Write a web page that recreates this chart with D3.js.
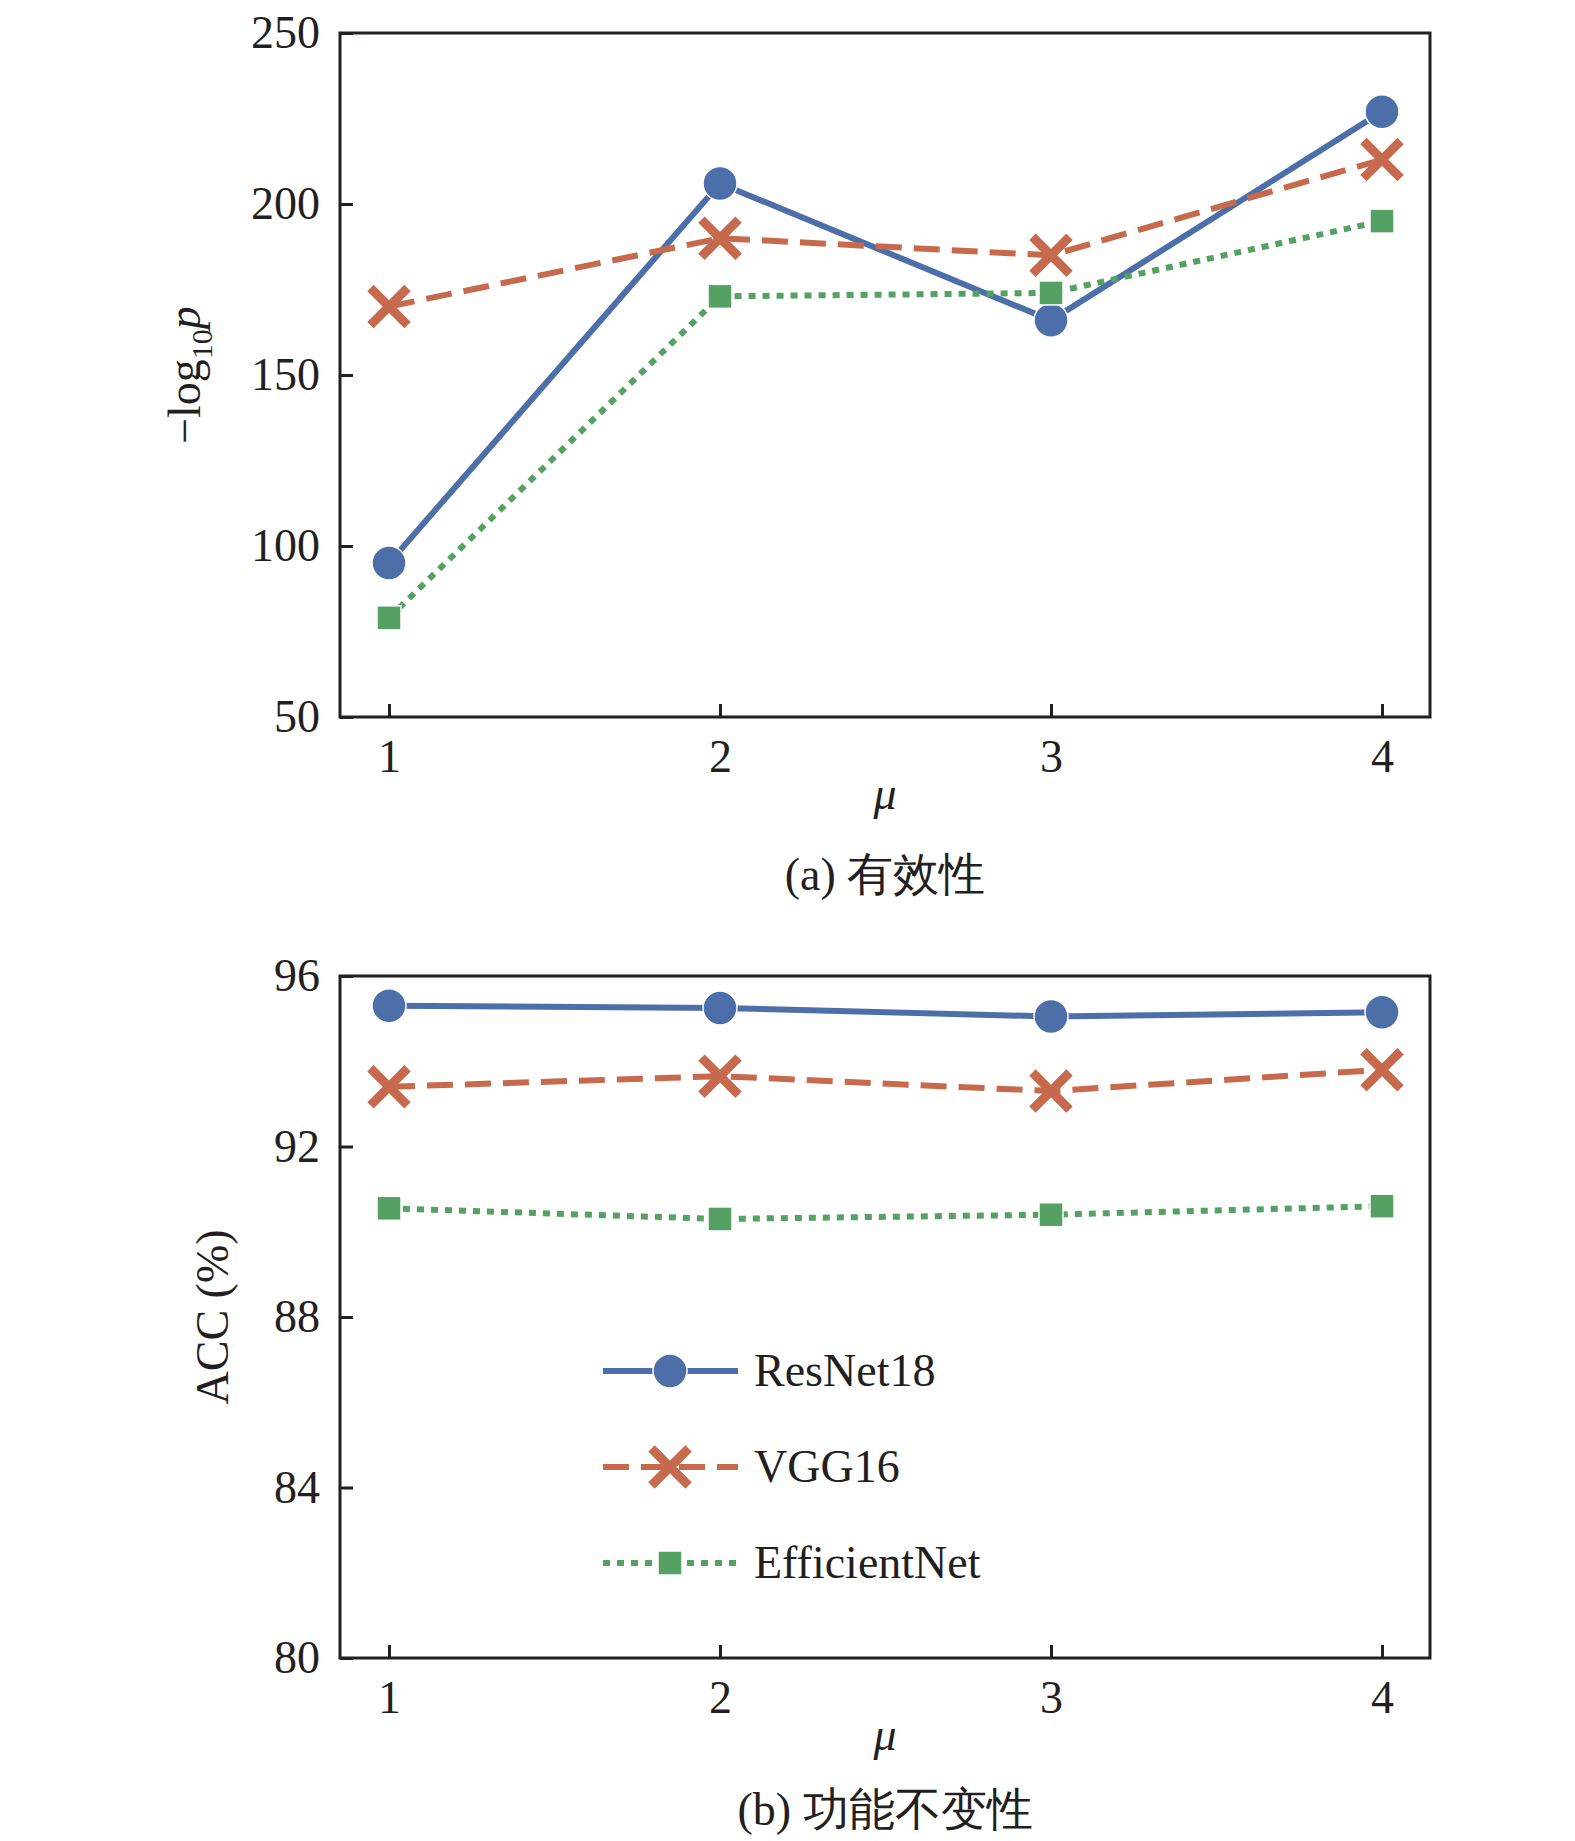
<!DOCTYPE html>
<html><head><meta charset="utf-8">
<script src="https://cdn.jsdelivr.net/npm/d3@7"></script>
<style>body{margin:0;background:#fff}text{font-family:"Liberation Serif","Times New Roman",serif;fill:#231f20}</style>
</head><body>
<svg id="c" width="1575" height="1841"></svg>
<script>
var mu = [1, 2, 3, 4];
var names = ["ResNet18", "VGG16", "EfficientNet"];
var pTop = [[95, 206, 166, 227], [170, 190, 185, 213], [79, 173, 174, 195]];
var acc = [[95.3, 95.25, 95.05, 95.15], [93.4, 93.65, 93.3, 93.8], [90.55, 90.3, 90.4, 90.6]];
var yTicksA = [50, 100, 150, 200, 250];
var yTicksB = [80, 84, 88, 92, 96];
var colors = ["#4c6faa", "#c7694c", "#55a163"];
var dashes = [null, "26,12", "7,7"];

var svg = d3.select("#c");
var x = d3.scaleLinear().domain([1, 4]).range([389, 1382]);

function panel(top, bottom, ydom, yt, data, ylab, cap, labX, capY) {
  var y = d3.scaleLinear().domain(ydom).range([bottom, top]);
  var g = svg.append("g");
  g.append("rect").attr("x", 340).attr("y", top).attr("width", 1090).attr("height", bottom - top)
    .attr("fill", "none").attr("stroke", "#231f20").attr("stroke-width", 3);
  var ya = g.append("g").attr("transform", "translate(340,0)")
    .call(d3.axisLeft(y).tickValues(yt).tickSize(-13).tickPadding(20));
  var xa = g.append("g").attr("transform", "translate(0," + bottom + ")")
    .call(d3.axisBottom(x).tickValues(mu).tickSize(-13).tickPadding(22).tickFormat(d3.format("d")));
  [ya, xa].forEach(function (a) {
    a.select(".domain").remove();
    a.selectAll("line").attr("stroke", "#231f20").attr("stroke-width", 3);
    a.selectAll("text").attr("font-size", 46).attr("font-family", "Liberation Serif").attr("fill", "#231f20");
  });
  g.append("text").attr("x", 885).attr("y", bottom + 92).attr("text-anchor", "middle")
    .attr("font-size", 46).attr("font-style", "italic").text("μ");
  g.append("text").attr("x", 885).attr("y", capY).attr("text-anchor", "middle")
    .attr("font-size", 46).text(cap);
  ylab(g, (top + bottom) / 2);
  data.forEach(function (s, i) {
    var line = d3.line().x(function (d, j) { return x(mu[j]); }).y(function (d) { return y(d); });
    g.append("path").datum(s).attr("d", line).attr("fill", "none").attr("stroke", colors[i])
      .attr("stroke-width", 6).attr("stroke-dasharray", dashes[i]);
    s.forEach(function (d, j) { marker(g, i, x(mu[j]), y(d)); });
  });
  return g;
}

function marker(g, i, cx, cy) {
  if (i === 0) {
    g.append("circle").attr("cx", cx).attr("cy", cy).attr("r", 17).attr("fill", colors[0])
      .attr("stroke", "#fff").attr("stroke-width", 1.5);
  } else if (i === 1) {
    g.append("path").attr("d", d3.symbol(d3.symbolX, 900)()).attr("transform", "translate(" + cx + "," + cy + ")")
      .attr("fill", "none").attr("stroke", colors[1]).attr("stroke-width", 9);
  } else {
    g.append("rect").attr("x", cx - 12).attr("y", cy - 12).attr("width", 24).attr("height", 24)
      .attr("fill", colors[2]).attr("stroke", "#fff").attr("stroke-width", 1.5);
  }
}

panel(33, 717, [50, 250], yTicksA, pTop, function (g, cy) {
  var t = g.append("text").attr("transform", "translate(200," + cy + ") rotate(-90)")
    .attr("text-anchor", "middle").attr("font-size", 46);
  t.append("tspan").text("−log");
  t.append("tspan").attr("font-size", 30).attr("dy", 12).text("10");
  t.append("tspan").attr("dy", -12).attr("font-style", "italic").text("p");
}, "(a) 有效性", 0, 890);

var gb = panel(976, 1658, [80, 96], yTicksB, acc, function (g, cy) {
  g.append("text").attr("transform", "translate(228," + cy + ") rotate(-90)")
    .attr("text-anchor", "middle").attr("font-size", 46).text("ACC (%)");
}, "(b) 功能不变性", 0, 1825);

names.forEach(function (n, i) {
  var ly = 1371 + i * 96;
  gb.append("line").attr("x1", 603).attr("x2", 738).attr("y1", ly).attr("y2", ly)
    .attr("stroke", colors[i]).attr("stroke-width", 6).attr("stroke-dasharray", dashes[i]);
  marker(gb, i, 670, ly);
  gb.append("text").attr("x", 754).attr("y", ly + 15).attr("font-size", 46).text(n);
});
</script>
</body></html>
